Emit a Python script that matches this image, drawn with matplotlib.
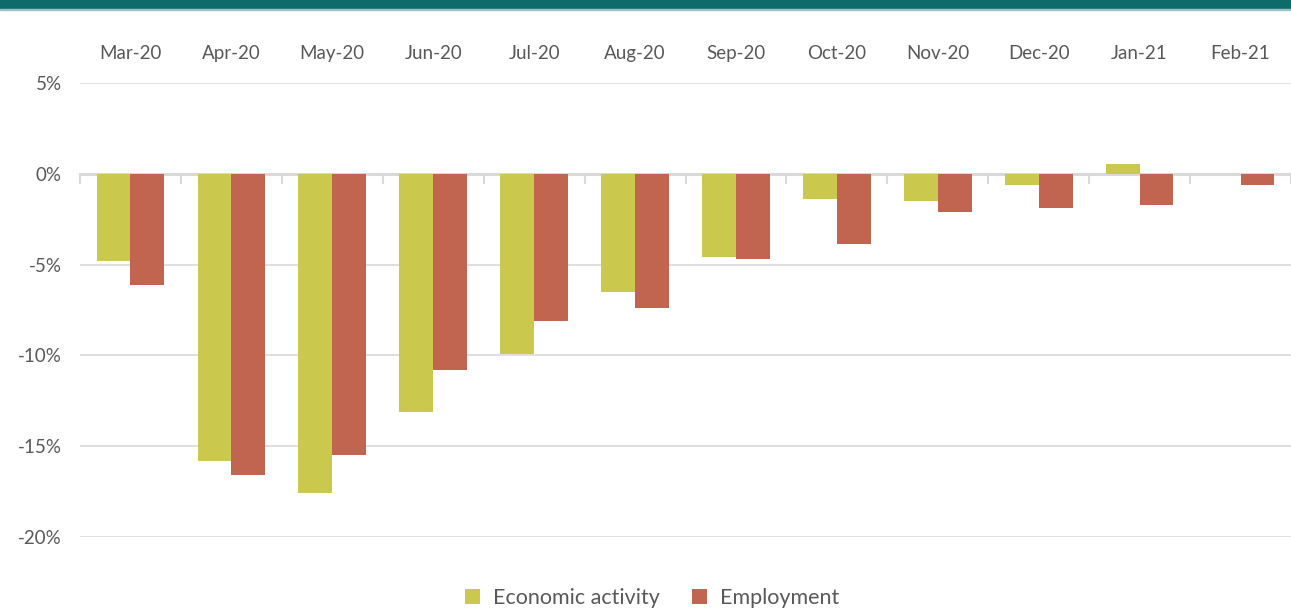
import matplotlib
matplotlib.use("Agg")
import matplotlib.pyplot as plt
from matplotlib.patches import Rectangle
import numpy as np

categories = ["Mar-20", "Apr-20", "May-20", "Jun-20", "Jul-20", "Aug-20",
              "Sep-20", "Oct-20", "Nov-20", "Dec-20", "Jan-21", "Feb-21"]
economic_activity = [-4.8, -15.8, -17.6, -13.1, -9.9, -6.5, -4.6, -1.4, -1.5, -0.6, 0.55, 0.0]
employment = [-6.1, -16.6, -15.5, -10.8, -8.1, -7.4, -4.7, -3.85, -2.1, -1.9, -1.7, -0.6]
yticks = [5, 0, -5, -10, -15, -20]

plt.rcParams['font.family'] = ['Lato', 'DejaVu Sans']
TXT = "#595959"
C_ECO = "#CBC84E"
C_EMP = "#C16550"
GRID = "#D9D9D9"

fig = plt.figure(figsize=(12.91, 6.11), dpi=100)
fig.patches.append(Rectangle((0, 1 - 9/611), 1, 9/611, transform=fig.transFigure,
                             color="#0E6B6B", zorder=0))
fig.patches.append(Rectangle((0, 1 - 10/611), 1, 1/611, transform=fig.transFigure,
                             color="#9CC3C1", zorder=0))

ax = fig.add_axes([80/1291, 1 - 537/611, 1 - 80/1291, (537 - 83)/611])
x = np.arange(len(categories))
w = 0.335
ax.bar(x - w/2, economic_activity, w, color=C_ECO, label="Economic activity", zorder=3,
       linewidth=0)
ax.bar(x + w/2, employment, w, color=C_EMP, label="Employment", zorder=3,
       linewidth=0)

ax.set_xlim(-0.5, len(categories) - 0.5)
ax.set_ylim(-20, 5)
ax.set_yticks(yticks)
ax.set_yticklabels([f"{v}%" for v in yticks])
for v in yticks:
    if v != 0:
        ax.axhline(v, color=GRID, linewidth=1.2, zorder=1)
ax.axhline(0, color=GRID, linewidth=2.2, zorder=2)

# category boundary ticks on zero line
for b in np.arange(len(categories) + 1) - 0.5:
    ax.plot([b, b], [0, -0.5], color=GRID, linewidth=1.5, zorder=2, clip_on=False)

ax.xaxis.tick_top()
ax.set_xticks(x)
ax.set_xticklabels(categories)
ax.tick_params(axis='x', length=0, pad=15, labelsize=13.5, labelcolor=TXT)
ax.tick_params(axis='y', length=0, pad=13, labelsize=13.5, labelcolor=TXT)
for s in ax.spines.values():
    s.set_visible(False)

leg = fig.legend(loc="center", bbox_to_anchor=(652/1291, 1 - 598/611), ncol=2,
                 frameon=False, fontsize=15.5, handlelength=0.7, handleheight=0.7,
                 columnspacing=1.5, handletextpad=0.6)
for t in leg.get_texts():
    t.set_color(TXT)

fig.savefig("out.png", dpi=100)
